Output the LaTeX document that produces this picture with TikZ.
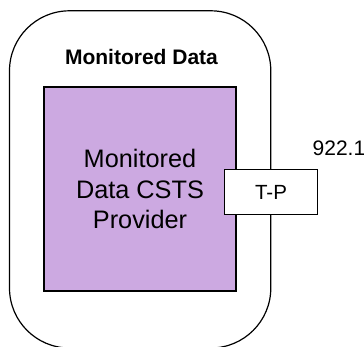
\documentclass[tikz,border=0pt]{standalone}
\usepackage{fontspec}
\setmainfont{Liberation Sans}
\definecolor{lav}{RGB}{204,169,225}
\begin{document}
\begin{tikzpicture}[x=1pt,y=-1pt,
  outerbox/.style={draw=black, line width=1.2pt, rounded corners=60pt, minimum width=261.3pt, minimum height=337.2pt, inner sep=0pt},
  provbox/.style={draw=black, fill=lav, line width=2.5pt, minimum width=191.6pt, minimum height=203.6pt, align=center, font=\fontsize{25.3}{30.2}\selectfont, inner sep=0pt},
  tpbox/.style={draw=black, fill=white, line width=1.2pt, minimum width=93.4pt, minimum height=44.8pt, inner sep=0pt, font=\fontsize{20.5}{24}\selectfont},
  titletext/.style={font=\bfseries\fontsize{21}{25}\selectfont, inner sep=0pt, anchor=base},
  reftext/.style={font=\fontsize{21}{25}\selectfont, inner sep=0pt, anchor=base west}
]
\useasboundingbox (0,0) rectangle (364,346);
\clip (0,0) rectangle (364,346);
\node[outerbox] (outer) at (140.15,179.4) {};
\node[titletext] (title) at (141.5,64) {Monitored Data};
\node[provbox] (prov) at (140,189) {Monitored\\Data CSTS\\Provider};
\node[tpbox] (tp) at (271,192) {T-P};
\node[reftext] (ref) at (312.5,155) {922.1};
\end{tikzpicture}
\end{document}
